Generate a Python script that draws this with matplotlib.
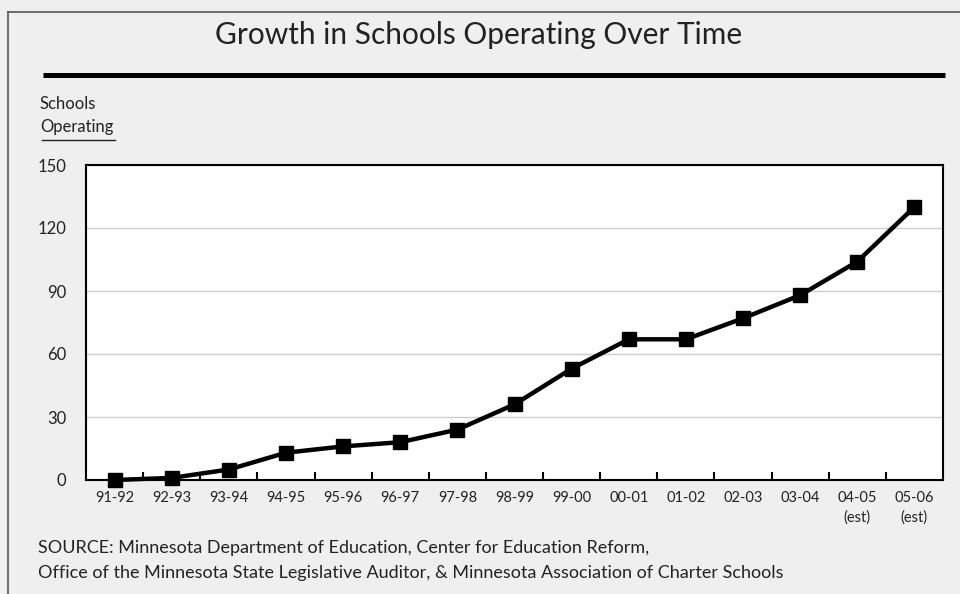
import matplotlib.pyplot as plt
from matplotlib.lines import Line2D

plt.rcParams['font.family'] = ['Lato', 'DejaVu Sans']

# school years and number of charter schools operating
years = ['91-92', '92-93', '93-94', '94-95', '95-96', '96-97', '97-98', '98-99',
         '99-00', '00-01', '01-02', '02-03', '03-04', '04-05\n(est)', '05-06\n(est)']
schools = [0, 1, 5, 13, 16, 18, 24, 36, 53, 67, 67, 77, 88, 104, 130]
y_ticks = [0, 30, 60, 90, 120, 150]

W, H = 960, 594
bg = '#efefef'

fig = plt.figure(figsize=(9.6, 5.94), dpi=100, facecolor=bg)

def fx(px):
    return px / W

def fy(py):
    return 1 - py / H

# outer frame (top and left edges only)
fig.add_artist(Line2D([fx(8), fx(8)], [fy(12), fy(H + 5)], color='#555555', lw=1.2))
fig.add_artist(Line2D([fx(8), fx(W + 5)], [fy(12), fy(12)], color='#555555', lw=1.2))

fig.text(fx(479), fy(35), 'Growth in Schools Operating Over Time', ha='center', va='center',
         fontsize=21.5, color='#222222')
fig.add_artist(Line2D([fx(43), fx(945)], [fy(75), fy(75)], color='black', lw=3.6,
                      solid_capstyle='butt'))

fig.text(fx(40), fy(104), 'Schools', ha='left', va='center', fontsize=12, color='#222222')
fig.text(fx(40), fy(127), 'Operating', ha='left', va='center', fontsize=12, color='#222222')
fig.add_artist(Line2D([fx(42), fx(115)], [fy(140), fy(140)], color='#222222', lw=1))

ax = fig.add_axes([fx(86), fy(480), fx(943) - fx(86), fy(165) - fy(480)])
ax.set_facecolor('white')
x = range(len(years))
ax.plot(x, schools, color='black', lw=3.2, marker='s', markersize=10.5, zorder=3, clip_on=False)

ax.set_xlim(-0.5, len(years) - 0.5)
ax.set_ylim(0, 150)
ax.set_yticks(y_ticks)
ax.set_yticklabels([str(v) for v in y_ticks], fontsize=12, color='#222222')
ax.set_xticks(list(x))
ax.set_xticklabels(years, fontsize=10.5, color='#222222', linespacing=1.45, va='top')
ax.set_xticks([i + 0.5 for i in range(len(years) - 1)], minor=True)
ax.tick_params(axis='x', which='major', length=0, pad=8)
ax.tick_params(axis='x', which='minor', direction='in', length=6, width=1.5, color='black')
ax.tick_params(axis='y', length=0, pad=14)
for tl in ax.get_xticklabels():
    tl.set_multialignment('center')

ax.grid(axis='y', color='#cccccc', lw=1)
ax.set_axisbelow(True)
for s in ax.spines.values():
    s.set_linewidth(1.5)
    s.set_color('black')

fig.text(fx(38), fy(548), 'SOURCE: Minnesota Department of Education, Center for Education Reform,',
         ha='left', va='center', fontsize=13, color='#222222')
fig.text(fx(38), fy(573), 'Office of the Minnesota State Legislative Auditor, & Minnesota Association of Charter Schools',
         ha='left', va='center', fontsize=13, color='#222222')

fig.savefig('out.png', dpi=100, facecolor=bg)
